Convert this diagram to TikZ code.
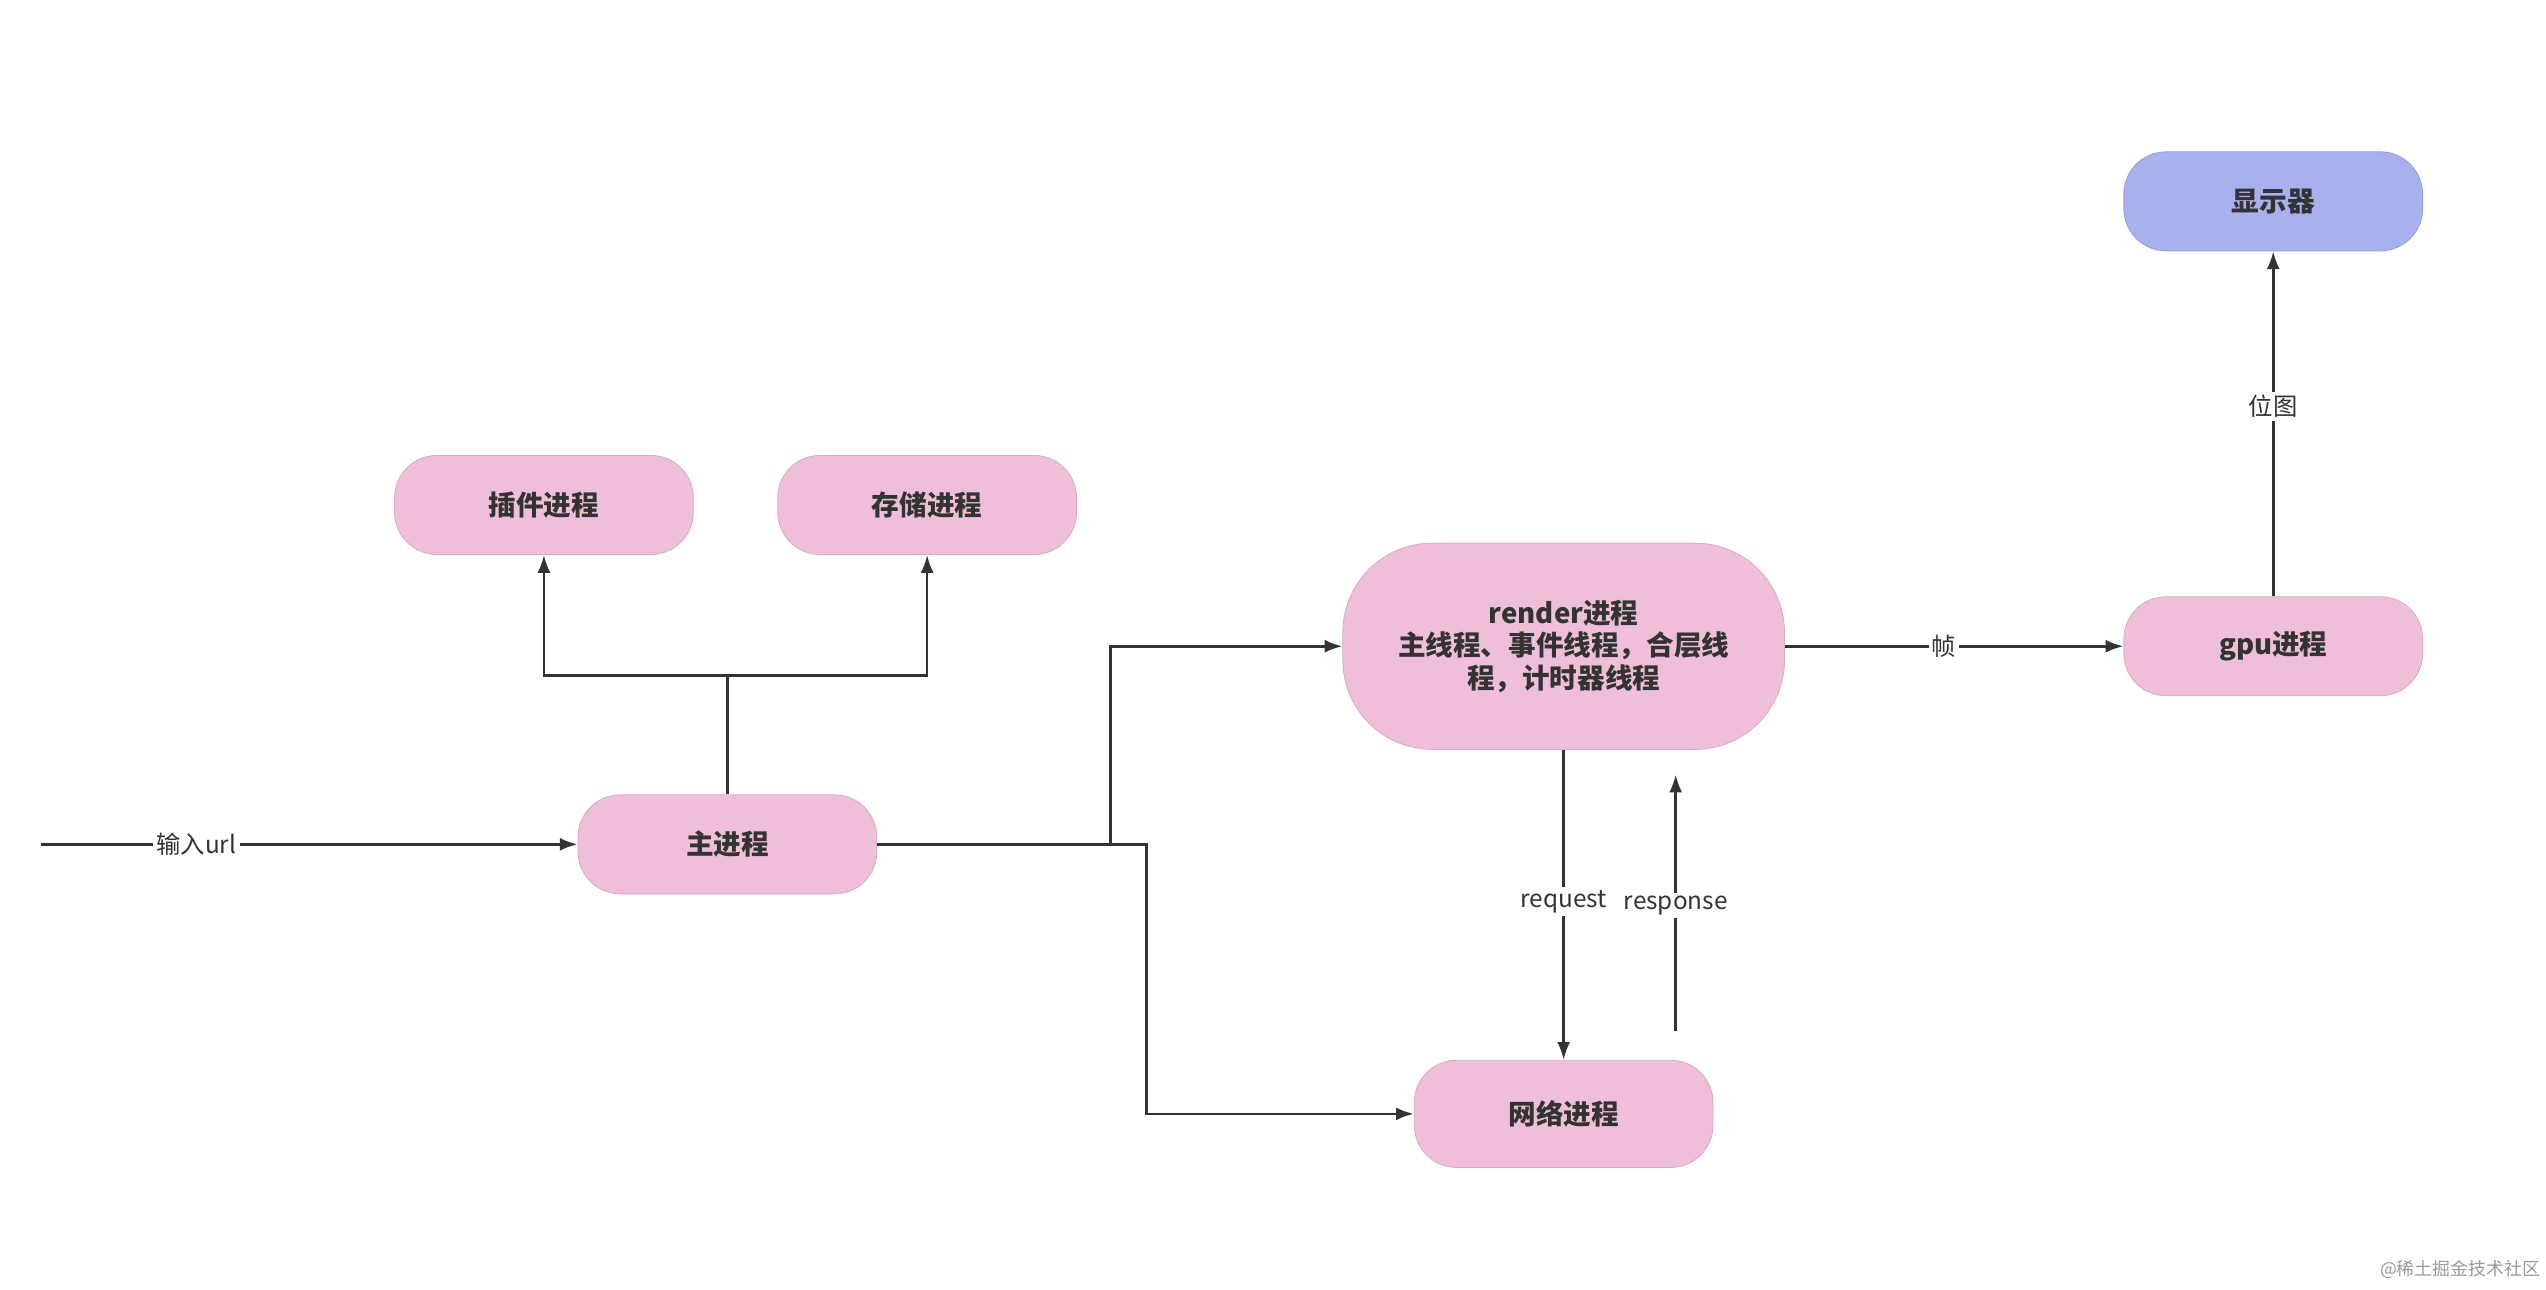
\documentclass[tikz,border=0pt]{standalone}
\usepackage{fontspec}
\setmainfont{Noto Sans CJK SC}
\usetikzlibrary{arrows.meta}
\definecolor{pk}{HTML}{EFBFDA}
\definecolor{bl}{HTML}{A9B0EE}
\begin{document}
\begin{tikzpicture}[x=1pt,y=-1pt,
  box/.style={fill=pk,draw=pk!90!black,line width=0.5pt,rounded corners=26pt,minimum width=184pt,minimum height=61pt,font=\fontsize{17}{20}\selectfont\bfseries,text=black!80,align=center,inner sep=0pt},
  ln/.style={draw=black!80,line width=1.6pt,-{Latex[length=11pt,width=8pt]}},
  pl/.style={draw=black!80,line width=1.6pt},
  lb/.style={fill=white,font=\fontsize{15}{18}\selectfont,text=black!80,inner sep=2pt}]
\useasboundingbox (0,0) rectangle (1568,794);
\node[box] (cj) at (335,311) {插件进程};
\node[box] (cc) at (571,311) {存储进程};
\node[box] (main) at (448,520) {主进程};
\node[box,minimum width=272pt,minimum height=127pt,rounded corners=55pt] (rd) at (963,398) {render进程\\主线程、事件线程，合层线\\程，计时器线程};
\node[box,minimum height=66pt] (net) at (963,686) {网络进程};
\node[box] (gpu) at (1400,398) {gpu进程};
\node[box,fill=bl,draw=bl!90!black] (disp) at (1400,124) {显示器};
\coordinate (in) at (25,520);
\coordinate (j) at (448,416);
\coordinate (rs1) at (1032,635);
\coordinate (rs2) at (1032,477);
\draw[ln] (in) -- node[lb,pos=0.29]{输入url} (main);
\draw[pl] (main) -- (j);
\draw[ln] (j) -| (cj.south);
\draw[ln] (j) -| (cc.south);
\draw[ln] (main.east) -- (684,520) |- (rd.west);
\draw[ln] (main.east) -- (706,520) |- (net.west);
\draw[ln] (rd.south) -- node[lb,pos=0.49]{request} (net.north);
\draw[ln] (rs1) -- node[lb,pos=0.49]{response} (rs2);
\draw[ln] (rd.east) -- node[lb,pos=0.47]{帧} (gpu.west);
\draw[ln] (gpu.north) -- node[lb,pos=0.55]{位图} (disp.south);
\node[font=\fontsize{11}{13}\selectfont,text=black!40] (wm) at (1515,782) {@稀土掘金技术社区};
\end{tikzpicture}
\end{document}
